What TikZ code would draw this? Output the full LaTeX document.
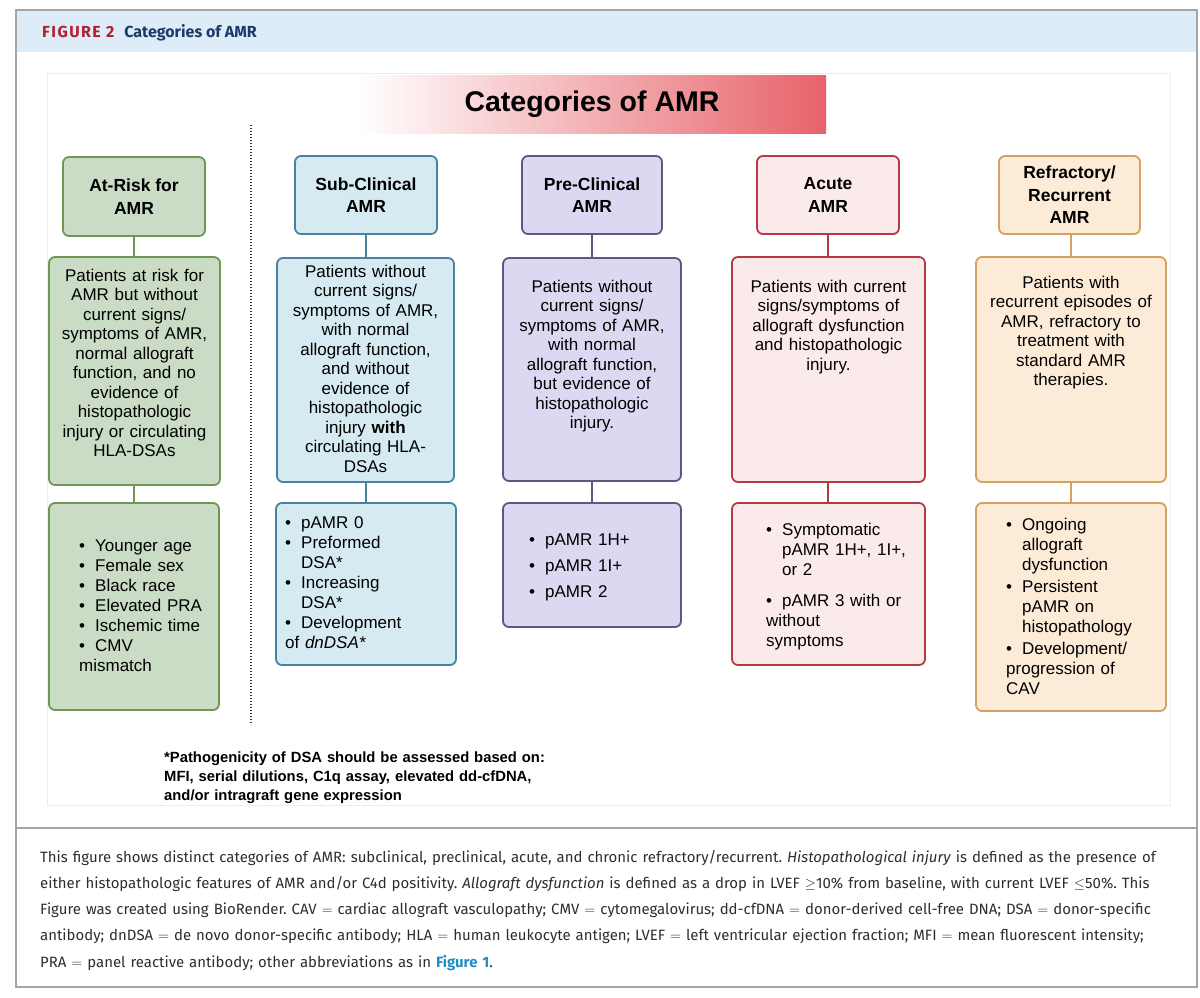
\documentclass[tikz,border=0pt]{standalone}
\usepackage{fontspec}
\setmainfont{Liberation Sans}
\newfontfamily\capfont{Fira Sans}
\usetikzlibrary{fit}
\definecolor{gfill}{RGB}{202,220,197}
\definecolor{gline}{RGB}{112,150,84}
\definecolor{bfill}{RGB}{214,235,241}
\definecolor{bline}{RGB}{72,130,160}
\definecolor{pfill}{RGB}{219,216,241}
\definecolor{pline}{RGB}{92,88,132}
\definecolor{rfill}{RGB}{251,234,234}
\definecolor{rline}{RGB}{182,58,70}
\definecolor{ofill}{RGB}{252,235,215}
\definecolor{oline}{RGB}{212,162,96}
\definecolor{hdrband}{RGB}{222,236,248}
\definecolor{figred}{RGB}{178,30,52}
\definecolor{navy}{RGB}{28,58,108}
\definecolor{titred}{RGB}{232,98,106}
\definecolor{captxt}{RGB}{45,45,45}
\definecolor{linkblue}{RGB}{30,140,200}
\definecolor{framegray}{RGB}{165,165,165}
\newcommand\firstitem[1]{\leavevmode\hangindent=16pt\hangafter=1\hbox to 16pt{\textbullet\hfil}#1}
\newcommand\bitem[2][0pt]{\par\vspace{#1}\hangindent=16pt\hangafter=1\noindent\hbox to 16pt{\textbullet\hfil}#2}
\frenchspacing
\tikzset{
  catbox/.style={rounded corners=6pt, line width=1.8pt, inner sep=0pt},
  hdrtext/.style={font=\fontsize{17.5}{22.5}\selectfont\bfseries, align=center},
  midtext/.style={font=\fontsize{17}{19.5}\selectfont, align=center, inner sep=0pt, anchor=base},
  listtext/.style={font=\fontsize{17}{20}\selectfont, align=left, inner sep=0pt, anchor=base west},
  conn/.style={line width=1.8pt}
}
\begin{document}
\begin{tikzpicture}[x=1pt,y=-1pt]
\useasboundingbox (0,0) rectangle (1200,997);
% outer frame and header band
\fill[hdrband] (16,10) rectangle (1197,52);
\draw[framegray, line width=1.2pt] (16,10) rectangle (1197,987);
\draw[framegray, line width=1.2pt] (16,828) -- (1197,828);
\node[anchor=base west, inner sep=0pt, font=\capfont\fontsize{16}{18}\selectfont\bfseries] (fighead) at (42,37)
  {{\color{figred}\addfontfeature{LetterSpace=9}FIGURE 2}\hspace{10pt}{\color{navy}Categories of AMR}};
% inner figure area
\draw[black!7, line width=0.8pt] (47,73) rectangle (1170,805);
% title
\node[fit={(358,75) (826,133)}, inner sep=0pt, left color=white, right color=titred, shading angle=90] (title) {};
\node[font=\fontsize{28.5}{30}\selectfont\bfseries, inner sep=0pt] (titletext) at (title.center) {Categories of AMR};
% dotted divider
\coordinate (dtop) at (251,125);
\coordinate (dbot) at (251,725);
\draw[line width=1.3pt, dash pattern=on 1.3pt off 1.7pt, black!80] (dtop) -- (dbot);

% ---------- column 1 green ----------
\node[catbox, draw=gline, fill=gfill, fit={(63,157) (205,236)}] (g1) {};
\node[hdrtext] at (g1.center) {At-Risk for\\AMR};
\node[catbox, draw=gline, fill=gfill, fit={(49,257) (220,485)}] (g2) {};
\node[catbox, draw=gline, fill=gfill, fit={(49,503) (219,710)}] (g3) {};
\draw[gline, conn] (g1.south) -- (g1.south |- g2.north);
\draw[gline, conn] (g1.south |- g2.south) -- (g1.south |- g3.north);
\node[midtext, text width=168pt] (g2t) at (134.5,281) {Patients at risk for\\AMR but without\\current signs/\\symptoms of AMR,\\normal allograft\\function, and no\\evidence of\\histopathologic\\injury or circulating\\HLA-DSAs};
\node[listtext, text width=150pt] (g3t) at (79,551) {\firstitem{Younger age}\bitem{Female sex}\bitem{Black race}\bitem{Elevated PRA}\bitem{Ischemic time}\bitem{CMV\newline mismatch}};

% ---------- column 2 blue ----------
\node[catbox, draw=bline, fill=bfill, fit={(295,156) (437,234)}] (b1) {};
\node[hdrtext] at (b1.center) {Sub-Clinical\\AMR};
\node[catbox, draw=bline, fill=bfill, fit={(277,258) (454,482)}] (b2) {};
\node[catbox, draw=bline, fill=bfill, fit={(276,503) (456,665)}] (b3) {};
\draw[bline, conn] (b1.south) -- (b1.south |- b2.north);
\draw[bline, conn] (b1.south |- b2.south) -- (b1.south |- b3.north);
\node[midtext, text width=175pt] (b2t) at (365.5,277) {Patients without\\current signs/\\symptoms of AMR,\\with normal\\allograft function,\\and without\\evidence of\\histopathologic\\injury \textbf{with}\\circulating HLA-\\DSAs};
\node[listtext, text width=165pt] (b3t) at (285,528) {\firstitem{pAMR 0}\bitem{Preformed\newline DSA*}\bitem{Increasing\newline DSA*}\bitem{Development\newline of \textit{dnDSA*}}};

% ---------- column 3 purple ----------
\node[catbox, draw=pline, fill=pfill, fit={(522,156) (662,234)}] (p1) {};
\node[hdrtext] at (p1.center) {Pre-Clinical\\AMR};
\node[catbox, draw=pline, fill=pfill, fit={(503,258) (681,481)}] (p2) {};
\node[catbox, draw=pline, fill=pfill, fit={(503,503) (681,627)}] (p3) {};
\draw[pline, conn] (p1.south) -- (p1.south |- p2.north);
\draw[pline, conn] (p1.south |- p2.south) -- (p1.south |- p3.north);
\node[midtext, text width=175pt] (p2t) at (592,292) {Patients without\\current signs/\\symptoms of AMR,\\with normal\\allograft function,\\but evidence of\\histopathologic\\injury.};
\node[listtext, text width=165pt] (p3t) at (529,545) {\firstitem{pAMR 1H+}\bitem[6pt]{pAMR 1I+}\bitem[6pt]{pAMR 2}};

% ---------- column 4 red ----------
\node[catbox, draw=rline, fill=rfill, fit={(757,156) (899,234)}] (r1) {};
\node[hdrtext] at (r1.center) {Acute\\AMR};
\node[catbox, draw=rline, fill=rfill, fit={(732,257) (925,482)}] (r2) {};
\node[catbox, draw=rline, fill=rfill, fit={(732,503) (925,665)}] (r3) {};
\draw[rline, conn] (r1.south) -- (r1.south |- r2.north);
\draw[rline, conn] (r1.south |- r2.south) -- (r1.south |- r3.north);
\node[midtext, text width=190pt] (r2t) at (828.5,292) {Patients with current\\signs/symptoms of\\allograft dysfunction\\and histopathologic\\injury.};
\node[listtext, text width=180pt] (r3t) at (766,535) {\firstitem{Symptomatic\newline pAMR 1H+, 1I+,\newline or 2}\bitem[11pt]{pAMR 3 with or\newline without\newline symptoms}};

% ---------- column 5 orange ----------
\node[catbox, draw=oline, fill=ofill, fit={(999,156) (1140,234)}] (o1) {};
\node[hdrtext] at (o1.center) {Refractory/\\Recurrent\\AMR};
\node[catbox, draw=oline, fill=ofill, fit={(976,257) (1166,482)}] (o2) {};
\node[catbox, draw=oline, fill=ofill, fit={(976,503) (1166,711)}] (o3) {};
\draw[oline, conn] (o2.north |- o1.south) -- (o2.north);
\draw[oline, conn] (o2.south) -- (o3.north);
\node[midtext, text width=188pt] (o2t) at (1071,288) {Patients with\\recurrent episodes of\\AMR, refractory to\\treatment with\\standard AMR\\therapies.};
\node[listtext, text width=180pt] (o3t) at (1006,530) {\firstitem{Ongoing\newline allograft\newline dysfunction}\bitem[2pt]{Persistent\newline pAMR on\newline histopathology}\bitem[2pt]{Development/\newline progression of\newline CAV}};

% footnote
\node[anchor=base west, inner sep=0pt, align=left, text width=420pt, font=\fontsize{14.8}{19}\selectfont\bfseries] (foot) at (164,762)
  {*Pathogenicity of DSA should be assessed based on:\\MFI, serial dilutions, C1q assay, elevated dd-cfDNA,\\and/or intragraft gene expression};

% caption
\node[anchor=base west, inner sep=0pt, align=left, text width=1150pt, text=captxt, font=\capfont\fontsize{14.95}{26.3}\selectfont] (caption) at (40,862)
  {This figure shows distinct categories of AMR: subclinical, preclinical, acute, and chronic refractory/recurrent. \textit{Histopathological injury} is defined as the presence of\\
   either histopathologic features of AMR and/or C4d positivity. \textit{Allograft dysfunction} is defined as a drop in LVEF $\geq$10\% from baseline, with current LVEF $\leq$50\%. This\\
   Figure was created using BioRender. CAV $=$ cardiac allograft vasculopathy; CMV $=$ cytomegalovirus; dd-cfDNA $=$ donor-derived cell-free DNA; DSA $=$ donor-specific\\
   antibody; dnDSA $=$ de novo donor-specific antibody; HLA $=$ human leukocyte antigen; LVEF $=$ left ventricular ejection fraction; MFI $=$ mean fluorescent intensity;\\
   PRA $=$ panel reactive antibody; other abbreviations as in {\color{linkblue}\bfseries Figure 1}.};
\end{tikzpicture}
\end{document}
